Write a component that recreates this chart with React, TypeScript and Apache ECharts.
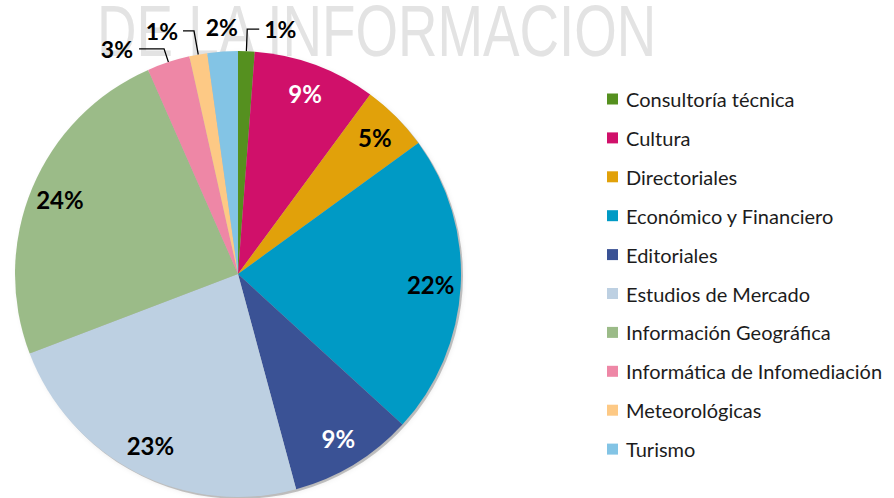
import React, { useEffect, useRef } from "react";
import * as echarts from "echarts";

const categories = [
  "Consultoría técnica",
  "Cultura",
  "Directoriales",
  "Económico y Financiero",
  "Editoriales",
  "Estudios de Mercado",
  "Información Geográfica",
  "Informática de Infomediación",
  "Meteorológicas",
  "Turismo",
];
const shares = [1.2, 8.9, 4.9, 21.8, 9.0, 23.4, 24.2, 3.1, 1.3, 2.2];
const colors = [
  "#55901f",
  "#d0106a",
  "#e1a10a",
  "#009ac5",
  "#3a5295",
  "#bdd0e2",
  "#9bbb88",
  "#ee87a6",
  "#fdc985",
  "#83c4e5",
];
const watermarkText = "DE LA INFORMACION";

// label styling (not data)
const whiteLabelNames = ["Cultura", "Editoriales"];
const outsideLabelStyle: Record<string, { len: number; len2: number; dist: number; line: boolean }> = {
  "Consultoría técnica": { len: 22, len2: 12, dist: 5, line: true },
  "Informática de Infomediación": { len: 14, len2: 25, dist: 6, line: true },
  "Meteorológicas": { len: 24, len2: 11, dist: 5, line: true },
  "Turismo": { len: 25, len2: 0, dist: -17, line: false },
};

const FONT = "Lato, 'Open Sans', sans-serif";
const CX = 238;
const CY = 274;
const R = 223;

export default function App() {
  const ref = useRef<HTMLDivElement>(null);
  useEffect(() => {
    if (!ref.current) return;
    const chart = echarts.init(ref.current, undefined, { renderer: "svg" });
    const fmt = (p: any) => Math.round(p.percent) + "%";

    const mainData = categories.map((name, i) => {
      const o = outsideLabelStyle[name];
      return {
        name,
        value: shares[i],
        itemStyle: { color: colors[i] },
        label: o
          ? { show: true, position: "outside", distanceToLabelLine: o.dist }
          : { show: false },
        labelLine: o
          ? { show: o.line, length: o.len, length2: o.len2, lineStyle: { color: "#000", width: 1.3 } }
          : { show: false },
      };
    });
    const ringData = categories.map((name, i) => ({
      name,
      value: shares[i],
      label: {
        show: !outsideLabelStyle[name],
        color: whiteLabelNames.includes(name) ? "#ffffff" : "#000000",
      },
    }));

    chart.setOption({
      animation: false,
      backgroundColor: "#ffffff",
      color: colors,
      graphic: [
        {
          type: "text",
          x: 97,
          y: 31,
          scaleX: 0.76,
          z: -10,
          silent: true,
          style: {
            text: watermarkText,
            fontFamily: "'Liberation Sans', Arial, sans-serif",
            fontSize: 72,
            fill: "#e3e3e3",
            verticalAlign: "middle",
            align: "left",
          },
        },
      ],
      legend: {
        orient: "vertical",
        left: 607,
        top: 88,
        padding: 0,
        itemWidth: 11,
        itemHeight: 11,
        itemGap: 16.9,
        icon: "rect",
        selectedMode: false,
        data: categories,
        textStyle: {
          fontFamily: FONT,
          fontSize: 20,
          lineHeight: 22,
          color: "#1c1c1c",
          padding: [0, 0, 0, 3],
        },
      },
      series: [
        {
          type: "pie",
          name: "shadow",
          silent: true,
          center: [CX + 2, CY + 2],
          radius: [0, R],
          label: { show: false },
          labelLine: { show: false },
          itemStyle: { color: "rgba(0,0,0,0.22)", shadowBlur: 5, shadowColor: "rgba(0,0,0,0.35)" },
          data: [{ name: "_", value: 1 }],
          z: 1,
          legendHoverLink: false,
        },
        {
          type: "pie",
          center: [CX, CY],
          radius: [0, R],
          startAngle: 90,
          clockwise: true,
          avoidLabelOverlap: false,
          silent: true,
          label: {
            formatter: fmt,
            fontFamily: FONT,
            fontWeight: "bold",
            fontSize: 23,
            color: "#000",
          },
          emphasis: { disabled: true },
          data: mainData,
          z: 2,
        },
        {
          type: "pie",
          center: [CX, CY],
          radius: [157, R],
          startAngle: 90,
          clockwise: true,
          avoidLabelOverlap: false,
          silent: true,
          legendHoverLink: false,
          itemStyle: { color: "rgba(0,0,0,0)" },
          label: {
            position: "inside",
            formatter: fmt,
            fontFamily: FONT,
            fontWeight: "bold",
            fontSize: 24,
          },
          labelLine: { show: false },
          emphasis: { disabled: true },
          data: ringData,
          z: 3,
        },
      ],
    });
    return () => chart.dispose();
  }, []);
  return (
    <div
      ref={ref}
      style={{ position: "absolute", left: 0, top: 0, width: 894, height: 498 }}
    />
  );
}
